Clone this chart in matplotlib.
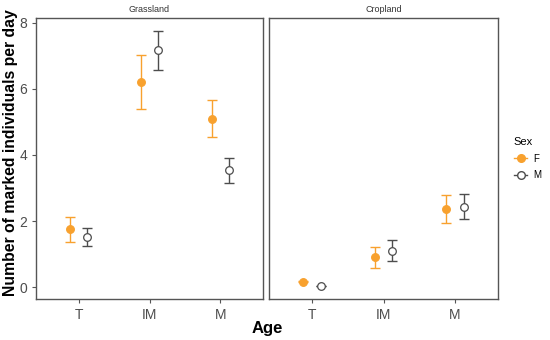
import matplotlib
matplotlib.use("Agg")
import matplotlib.pyplot as plt
from matplotlib.lines import Line2D

plt.rcParams['font.family'] = ['Liberation Sans', 'DejaVu Sans']

ages = ["T", "IM", "M"]
habitats = ["Grassland", "Cropland"]

# Grassland
g_f_mean = [1.76, 6.20, 5.09]
g_f_lo = [1.38, 5.38, 4.55]
g_f_hi = [2.13, 7.01, 5.65]
g_m_mean = [1.52, 7.17, 3.53]
g_m_lo = [1.25, 6.57, 3.15]
g_m_hi = [1.80, 7.76, 3.91]
# Cropland
c_f_mean = [0.16, 0.90, 2.36]
c_f_lo = [0.14, 0.58, 1.95]
c_f_hi = [0.18, 1.21, 2.79]
c_m_mean = [0.03, 1.10, 2.43]
c_m_lo = [0.02, 0.78, 2.05]
c_m_hi = [0.04, 1.43, 2.82]

data = {
    "Grassland": {"F": (g_f_mean, g_f_lo, g_f_hi), "M": (g_m_mean, g_m_lo, g_m_hi)},
    "Cropland": {"F": (c_f_mean, c_f_lo, c_f_hi), "M": (c_m_mean, c_m_lo, c_m_hi)},
}

orange = "#F8A12E"
gray = "#4D4D4D"
frame = "#555555"
styles = {
    "F": dict(color=orange, mfc=orange, mec=orange, off=-0.125),
    "M": dict(color=gray, mfc="white", mec=gray, off=0.125),
}

fig = plt.figure(figsize=(5.5, 3.4), dpi=100)
positions = [[36/550, 41/340, 227/550, 281.5/340], [269/550, 41/340, 229/550, 281.5/340]]
axes = []
for i, hab in enumerate(habitats):
    ax = fig.add_axes(positions[i])
    axes.append(ax)
    for sex in ["F", "M"]:
        st = styles[sex]
        mean, lo, hi = data[hab][sex]
        xs = [k + 1 + st["off"] for k in range(len(ages))]
        yerr = [[m - l for m, l in zip(mean, lo)], [h - m for m, h in zip(mean, hi)]]
        ax.errorbar(xs, mean, yerr=yerr, fmt='none', ecolor=st["color"], elinewidth=1.0,
                    capsize=3.5, capthick=1.0, zorder=2)
        ax.plot(xs, mean, 'o', ms=5.5, mfc=st["mfc"], mec=st["mec"], mew=0.9, zorder=3, ls='none')
    ax.set_xlim(0.4, 3.6)
    ax.set_ylim(-0.36, 8.16)
    ax.set_xticks([1, 2, 3])
    ax.set_xticklabels(ages)
    ax.set_yticks([0, 2, 4, 6, 8])
    for s in ax.spines.values():
        s.set_color(frame)
        s.set_linewidth(1.0)
    ax.tick_params(axis='both', colors=frame, labelcolor="#4D4D4D", labelsize=10, length=3, width=0.8)
    ax.set_title(hab, fontsize=6.5, color="#333333", pad=4)
    if i == 1:
        ax.tick_params(axis='y', left=False, labelleft=False)

axes[0].set_ylabel("Number of marked individuals per day", fontsize=11.3, fontweight='bold')
axes[0].yaxis.set_label_coords(-18/227, 0.519)
fig.text(267/550, 1 - 328/340, "Age", ha='center', va='center', fontsize=12, fontweight='bold')

handles = [
    Line2D([0], [0], color=orange, marker='o', ms=5.5, mfc=orange, mec=orange, lw=1.0),
    Line2D([0], [0], color=gray, marker='o', ms=5.5, mfc='white', mec=gray, lw=1.0),
]
leg = fig.legend(handles, ["F", "M"], title="Sex", loc='upper left',
                 bbox_to_anchor=(505/550, 1 - 128/340), frameon=False, fontsize=7,
                 title_fontsize=8, handlelength=1.4, handletextpad=0.6, labelspacing=0.7)
leg._legend_box.align = "left"

fig.savefig("out.png", dpi=100)
